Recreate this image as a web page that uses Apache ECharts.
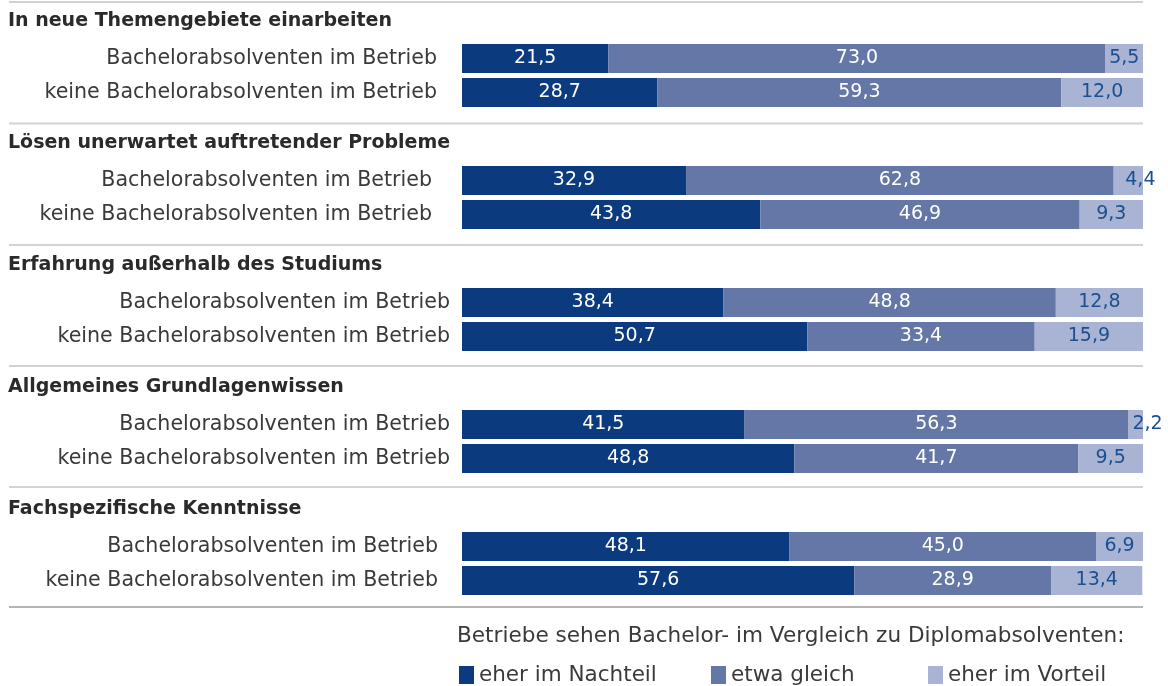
<!DOCTYPE html>
<html>
<head>
<meta charset="utf-8">
<script src="https://cdn.jsdelivr.net/npm/echarts@6/dist/echarts.min.js"></script>
<style>
  html, body { margin: 0; padding: 0; background: #fff; }
  #main { width: 1168px; height: 686px; }
</style>
</head>
<body>
<div id="main"></div>
<script>
  // Daten
  var groups = ['In neue Themengebiete einarbeiten', 'Lösen unerwartet auftretender Probleme',
    'Erfahrung außerhalb des Studiums', 'Allgemeines Grundlagenwissen', 'Fachspezifische Kenntnisse'];
  var rows = ['Bachelorabsolventen im Betrieb', 'keine Bachelorabsolventen im Betrieb'];
  var seriesNames = ['eher im Nachteil', 'etwa gleich', 'eher im Vorteil'];
  // je Gruppe: [Bachelor im Betrieb, keine Bachelor im Betrieb]
  var nachteil = [[21.5, 28.7], [32.9, 43.8], [38.4, 50.7], [41.5, 48.8], [48.1, 57.6]];
  var gleich   = [[73.0, 59.3], [62.8, 46.9], [48.8, 33.4], [56.3, 41.7], [45.0, 28.9]];
  var vorteil  = [[5.5, 12.0], [4.4, 9.3], [12.8, 15.9], [2.2, 9.5], [6.9, 13.4]];
  var legendTitle = 'Betriebe sehen Bachelor- im Vergleich zu Diplomabsolventen:';

  var colors = ['#0b3a7e', '#6477a6', '#a9b3d3'];
  var labelColors = ['#fff', '#fff', '#1b4f8f'];
  var labelMargins = [25, 30, 12, 12, 24];
  var font = 'DejaVu Sans';

  var myChart = echarts.init(document.getElementById('main'));

  var grids = [], xAxes = [], yAxes = [], series = [], graphics = [];
  var dataSets = [nachteil, gleich, vorteil];

  groups.forEach(function (g, i) {
    grids.push({ left: 462, right: 25, top: 41.5 + 122 * i, height: 68 });
    xAxes.push({ gridIndex: i, type: 'value', min: 0, max: 100, show: false });
    yAxes.push({
      gridIndex: i, type: 'category', data: rows, inverse: true,
      axisLine: { show: false }, axisTick: { show: false },
      axisLabel: { color: '#3a3a3a', fontSize: 20.6, fontFamily: font, margin: labelMargins[i] }
    });
    dataSets.forEach(function (ds, k) {
      series.push({
        name: seriesNames[k], type: 'bar', stack: 's' + i,
        xAxisIndex: i, yAxisIndex: i, barWidth: 29,
        itemStyle: { color: colors[k] },
        data: ds[i].map(function (v) {
          return {
            value: v,
            label: v < 5 ? { offset: [12, 0] } : {}
          };
        }),
        label: {
          show: true, position: 'inside', color: labelColors[k],
          fontSize: 19, fontFamily: font,
          formatter: function (p) { return p.value.toFixed(1).replace('.', ','); }
        },
        silent: true
      });
    });
    graphics.push({
      type: 'text', left: 8, top: 12 + 122 * i,
      style: { text: g, fontSize: 19, fontWeight: 'bold', fontFamily: font, fill: '#2a2a2a' }
    });
  });

  // Trennlinien
  [2, 123.5, 245, 366, 487].forEach(function (y) {
    graphics.push({ type: 'line', shape: { x1: 9, y1: y, x2: 1143, y2: y },
      style: { stroke: '#d2d2d2', lineWidth: 2 } });
  });
  graphics.push({ type: 'line', shape: { x1: 9, y1: 607, x2: 1143, y2: 607 },
    style: { stroke: '#b4b4b4', lineWidth: 2 } });
  graphics.push({ type: 'text', left: 457, top: 625,
    style: { text: legendTitle, fontSize: 21.6, fontFamily: font, fill: '#3a3a3a' } });

  var legendLefts = [454, 706, 923];
  var legends = seriesNames.map(function (n, k) {
    return {
      data: [n], left: legendLefts[k], top: 659, itemWidth: 15, itemHeight: 18, icon: 'rect',
      itemGap: 0, textStyle: { fontSize: 21.5, fontFamily: font, color: '#3a3a3a' },
      selectedMode: false
    };
  });

  var option = {
    animation: false,
    grid: grids,
    xAxis: xAxes,
    yAxis: yAxes,
    legend: legends,
    series: series,
    graphic: graphics
  };
  myChart.setOption(option);
</script>
</body>
</html>
